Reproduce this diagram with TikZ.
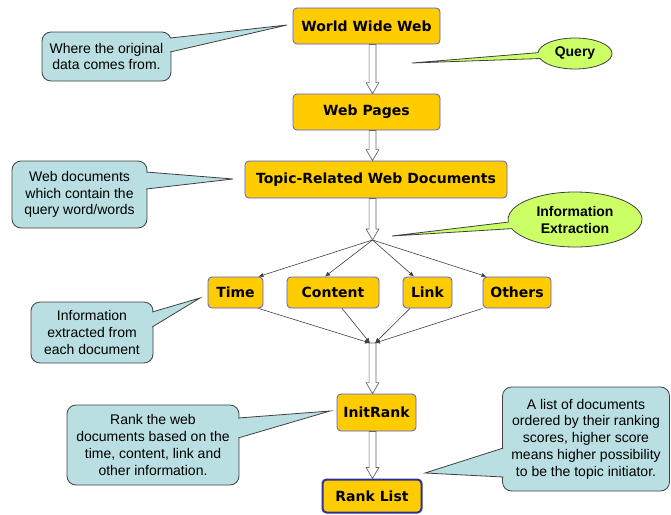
\documentclass[tikz,border=0pt]{standalone}
\usepackage{fontspec}
\setmainfont{Liberation Sans}
\newfontfamily\boxfont{DejaVu Sans}
\usetikzlibrary{shapes.callouts,shapes.geometric,calc,arrows.meta}
\definecolor{gold}{HTML}{FFCC00}
\definecolor{boxborder}{HTML}{5A5ADC}
\definecolor{rankborder}{HTML}{2E2E99}
\definecolor{callfill}{HTML}{B9DFE3}
\definecolor{ellfill}{HTML}{CCFF66}
\definecolor{edge}{HTML}{404040}
\tikzset{
  box/.style={draw=boxborder, fill=gold, rounded corners=4pt, line width=0.8pt,
    font=\boxfont\bfseries\fontsize{14}{16}\selectfont, inner sep=0pt, align=center},
  call/.style={draw=edge, fill=callfill, rounded corners=9pt, line width=0.8pt,
    font=\fontsize{14}{16.8}\selectfont, align=center, inner sep=0pt},
  callptr/.style={draw=edge, fill=callfill, line width=0.8pt, line join=miter},
  ell/.style={ellipse callout, draw=edge, fill=ellfill, line width=0.8pt,
    font=\bfseries\fontsize{14}{17}\selectfont, align=center, inner sep=0pt},
  harrow/.style={draw=black!60, fill=white, line width=0.7pt, line join=miter},
  conn/.style={draw=edge, line width=0.6pt, -{Latex[length=5pt,width=4.5pt]}},
  plainconn/.style={draw=edge, line width=0.6pt}
}
\newcommand\hollowarrow[2]{%
  \draw[harrow] let \p1=(#1), \p2=(#2) in
   (\x1-3.4pt,\y1) -- (\x1-3.4pt,\y2+11pt) -- (\x1-6.4pt,\y2+11pt) -- (\x1,\y2)
   -- (\x1+6.4pt,\y2+11pt) -- (\x1+3.4pt,\y2+11pt) -- (\x1+3.4pt,\y1) -- cycle;}
\begin{document}
\begin{tikzpicture}[x=1pt,y=-1pt]
\useasboundingbox (0,0) rectangle (671,514);
\coordinate (spine) at (372.5,0);
\coordinate (split) at (372.5,240);
\coordinate (mergeL) at (370,343);
\coordinate (mergeR) at (375,343);
\coordinate (merge) at (372.5,343);

% main boxes
\node[box, minimum width=147pt, minimum height=36pt] (www) at (366.5,26) {World Wide Web};
\node[box, minimum width=147pt, minimum height=36pt] (wp) at (366.5,112) {Web Pages};
\node[box, minimum width=262pt, minimum height=37pt] (topic) at (376,179.5) {Topic-Related Web Documents};
\node[box, minimum width=55pt, minimum height=31pt] (time) at (235.5,292.5) {Time};
\node[box, minimum width=92pt, minimum height=31pt] (content) at (333,292.5) {Content};
\node[box, minimum width=49pt, minimum height=31pt] (link) at (427.5,292.5) {Link};
\node[box, minimum width=68pt, minimum height=31pt] (others) at (517,292.5) {Others};
\node[box, minimum width=79pt, minimum height=37pt] (ir) at (376.5,412.5) {InitRank};
\node[box, draw=rankborder, line width=2pt, minimum width=99pt, minimum height=33pt] (rl) at (372,496) {Rank List};

% hollow arrows
\hollowarrow{www.south -| spine}{wp.north -| spine}
\hollowarrow{wp.south -| spine}{topic.north -| spine}
\hollowarrow{topic.south -| spine}{split}
\hollowarrow{merge}{ir.north -| spine}
\hollowarrow{ir.south -| spine}{rl.north -| spine}

% split connectors
\draw[conn] (split) -- ([xshift=-5pt]time.north east);
\draw[conn] (split) -- ([xshift=-8pt]content.north);
\draw[conn] (split) -- ([xshift=-13.5pt]link.north);
\draw[conn] (split) -- ([xshift=4pt]others.north west);
% merge connectors
\draw[conn] ([xshift=-5pt]time.south east) -- (mergeL);
\draw[conn] ([xshift=9pt]content.south) -- (mergeL);
\draw[conn] ([xshift=-17.5pt]link.south) -- (mergeR);
\draw[conn] (others.south west) -- (mergeR);

% ellipse callouts
\coordinate (qtip) at (412,63);
\coordinate (ietip) at (392,236);
\node[ell, minimum width=74pt, minimum height=31pt, callout absolute pointer={(qtip)}, callout pointer arc=22] (query) at (575,53.5) {Query};
\node[ell, minimum width=134pt, minimum height=55pt, callout absolute pointer={(ietip)}, callout pointer arc=14] (ie) at (575,219.5) {Information\\Extraction};

% rectangular callouts
\node[call, minimum width=129pt, minimum height=49pt] (c1) at (106.5,56.5) {Where the original\\data comes from.};
\coordinate (t1) at (287,25);
\filldraw[callptr] ($(c1.east|-0,38)+(-1.2,0)$) -- (t1) -- ($(c1.east|-0,52)+(-1.2,0)$);

\node[call, minimum width=135pt, minimum height=67pt] (c2) at (79.5,194.5) {Web documents\\which contain the\\query word/words};
\coordinate (t2) at (233,179);
\filldraw[callptr] ($(c2.east|-0,172)+(-1.2,0)$) -- (t2) -- ($(c2.east|-0,189)+(-1.2,0)$);

\node[call, minimum width=122pt, minimum height=61pt] (c3) at (92,332.5) {Information\\extracted from\\each document};
\coordinate (t3) at (200,298);
\filldraw[callptr] ($(c3.east|-0,312)+(-1.2,0)$) -- (t3) -- ($(c3.east|-0,327)+(-1.2,0)$);

\node[call, minimum width=172pt, minimum height=80pt] (c4) at (153,445) {Rank the web\\documents based on the\\time, content, link and\\other information.};
\coordinate (t4) at (330,411);
\filldraw[callptr] ($(c4.east|-0,418)+(-1.2,0)$) -- (t4) -- ($(c4.east|-0,438)+(-1.2,0)$);

\node[call, minimum width=167pt, minimum height=104pt] (c5) at (586,439) {A list of documents\\ordered by their ranking\\scores, higher score\\means higher possibility\\to be the topic initiator.};
\coordinate (t5) at (425,473);
\filldraw[callptr] ($(c5.west|-0,448)+(1.2,0)$) -- (t5) -- ($(c5.west|-0,477)+(1.2,0)$);
\end{tikzpicture}
\end{document}
